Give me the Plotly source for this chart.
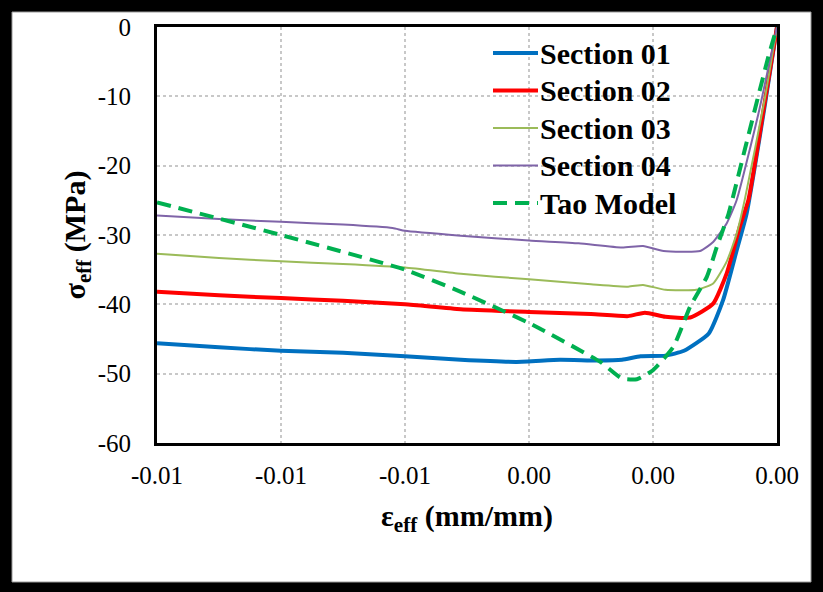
import plotly.graph_objects as go

# ---- data (strain in mm/mm, stress in MPa) ----
sec1_x = [-0.0100, -0.0090, -0.0080, -0.0070, -0.0060, -0.0051, -0.0042, -0.0035, -0.0029, -0.0025,
          -0.0022, -0.0018, -0.0015, -0.0011, -0.00087, -0.00065, -0.00049, -0.0002, 0.0]
sec1_y = [-45.6, -46.2, -46.7, -47.0, -47.5, -48.0, -48.3, -48.0, -48.1, -48.0,
          -47.5, -47.4, -46.7, -44.2, -39.4, -32.2, -26.9, -11.5, 0.0]

sec2_x = [-0.0100, -0.0090, -0.0080, -0.0070, -0.0060, -0.0051, -0.0040, -0.0030, -0.0024,
          -0.00213, -0.0018, -0.0014, -0.00103, -0.00081, -0.0006, -0.00046, -0.0002, 0.0]
sec2_y = [-38.2, -38.7, -39.1, -39.5, -40.0, -40.7, -41.1, -41.4, -41.7,
          -41.2, -41.8, -41.9, -39.9, -35.5, -28.8, -24.9, -11.0, 0.0]

sec3_x = [-0.0100, -0.0090, -0.0080, -0.0070, -0.0060, -0.0051, -0.0040, -0.0030, -0.0024,
          -0.00216, -0.0018, -0.0013, -0.00103, -0.00081, -0.00065, -0.00052, -0.0002, 0.0]
sec3_y = [-32.7, -33.3, -33.8, -34.2, -34.7, -35.6, -36.4, -37.1, -37.45,
          -37.2, -37.9, -37.9, -37.0, -33.8, -29.8, -24.9, -10.5, 0.0]

sec4_x = [-0.0100, -0.0090, -0.0080, -0.0070, -0.0062, -0.0060, -0.0051, -0.0040, -0.0032, -0.0025,
          -0.00216, -0.00183, -0.00124, -0.00103, -0.00081, -0.00065, -0.0003, 0.0]
sec4_y = [-27.2, -27.7, -28.1, -28.5, -29.0, -29.4, -30.1, -30.8, -31.2, -31.8,
          -31.6, -32.3, -32.3, -31.0, -28.3, -24.95, -12.5, 0.0]

tao_x = [-0.0100, -0.0080, -0.0060, -0.0051, -0.0040, -0.00285, -0.0025, -0.00226, -0.0020,
         -0.00167, -0.0014, -0.00113, -0.00097, -0.00078, -0.00052, -0.00014, 0.0]
tao_y = [-25.3, -30.0, -35.0, -38.2, -42.7, -48.3, -50.7, -50.8, -49.5,
         -46.1, -40.3, -36.0, -31.7, -26.9, -17.7, -4.3, 0.0]

series_names = ["Section 01", "Section 02", "Section 03", "Section 04", "Tao Model"]

x_tickvals = [-0.010, -0.008, -0.006, -0.004, -0.002, 0.0]
x_ticktext = ["-0.01", "-0.01", "-0.01", "0.00", "0.00", "0.00"]
y_tickvals = [0, -10, -20, -30, -40, -50, -60]
y_ticktext = ["0", "-10", "-20", "-30", "-40", "-50", "-60"]

styles = [
    ("#0070C0", 4, "solid"),
    ("#FF0000", 4, "solid"),
    ("#9BBB59", 2, "solid"),
    ("#7F64A8", 2, "solid"),
    ("#00B050", 4, "14px,8px"),
]
data = [(sec1_x, sec1_y), (sec2_x, sec2_y), (sec3_x, sec3_y), (sec4_x, sec4_y), (tao_x, tao_y)]

W, H = 823, 592
L, R, T, B = 157, 777, 27, 443
pw, ph = R - L, B - T


def px_x(p):
    return (p - L) / pw


def px_y(p):
    return (B - p) / ph


font_family = "Liberation Serif"

fig = go.Figure()
shapes = [
    dict(type="rect", xref="paper", yref="paper",
         x0=px_x(12), x1=px_x(811), y0=px_y(582), y1=px_y(12),
         fillcolor="white", line=dict(color="#9a9a9a", width=1), layer="below"),
]
annotations = []

for i, (name, (xs, ys), (col, w, dash)) in enumerate(zip(series_names, data, styles)):
    fig.add_trace(go.Scatter(
        x=xs, y=ys, mode="lines", name=name, showlegend=False,
        line=dict(color=col, width=w, dash=dash, shape="spline", smoothing=0.5),
    ))
    # legend entry (sample line + label)
    yrow = 53 + 37.5 * i
    shapes.append(dict(type="line", xref="paper", yref="paper",
                       x0=px_x(493), x1=px_x(538), y0=px_y(yrow), y1=px_y(yrow),
                       line=dict(color=col, width=w, dash=dash), layer="above"))
    annotations.append(dict(xref="paper", yref="paper", x=px_x(538), y=px_y(yrow),
                            xanchor="left", yanchor="middle", showarrow=False,
                            text=name,
                            font=dict(family=font_family, size=30, color="black", weight="bold")))

fig.update_layout(
    width=W, height=H,
    margin=dict(l=L, r=W - R, t=T, b=H - B, pad=0),
    paper_bgcolor="black",
    plot_bgcolor="white",
    font=dict(family=font_family, color="black"),
    showlegend=False,
    shapes=shapes,
    annotations=annotations,
)

fig.update_xaxes(
    range=[-0.010, 0.0],
    tickvals=x_tickvals, ticktext=x_ticktext,
    tickfont=dict(family=font_family, size=25, color="black"),
    ticks="", ticklabelstandoff=8,
    showgrid=True, gridcolor="#c8c8c8", griddash="dot", gridwidth=1.5,
    showline=True, linecolor="black", linewidth=3, mirror=True,
    zeroline=False,
    title=dict(text="ε<sub>eff</sub> (mm/mm)",
               font=dict(family=font_family, size=30, color="black", weight="bold"),
               standoff=17),
)
fig.update_yaxes(
    range=[-60, 0],
    tickvals=y_tickvals, ticktext=y_ticktext,
    tickfont=dict(family=font_family, size=25, color="black"),
    ticks="", ticklabelstandoff=18,
    showgrid=True, gridcolor="#c8c8c8", griddash="dot", gridwidth=1.5,
    showline=True, linecolor="black", linewidth=3, mirror=True,
    zeroline=False,
    title=dict(text="σ<sub>eff</sub> (MPa)",
               font=dict(family=font_family, size=30, color="black", weight="bold"),
               standoff=4),
)

fig.write_html("out.html",
               config={"displayModeBar": False},
               post_script="document.body.style.margin='0';document.body.style.background='black';")
